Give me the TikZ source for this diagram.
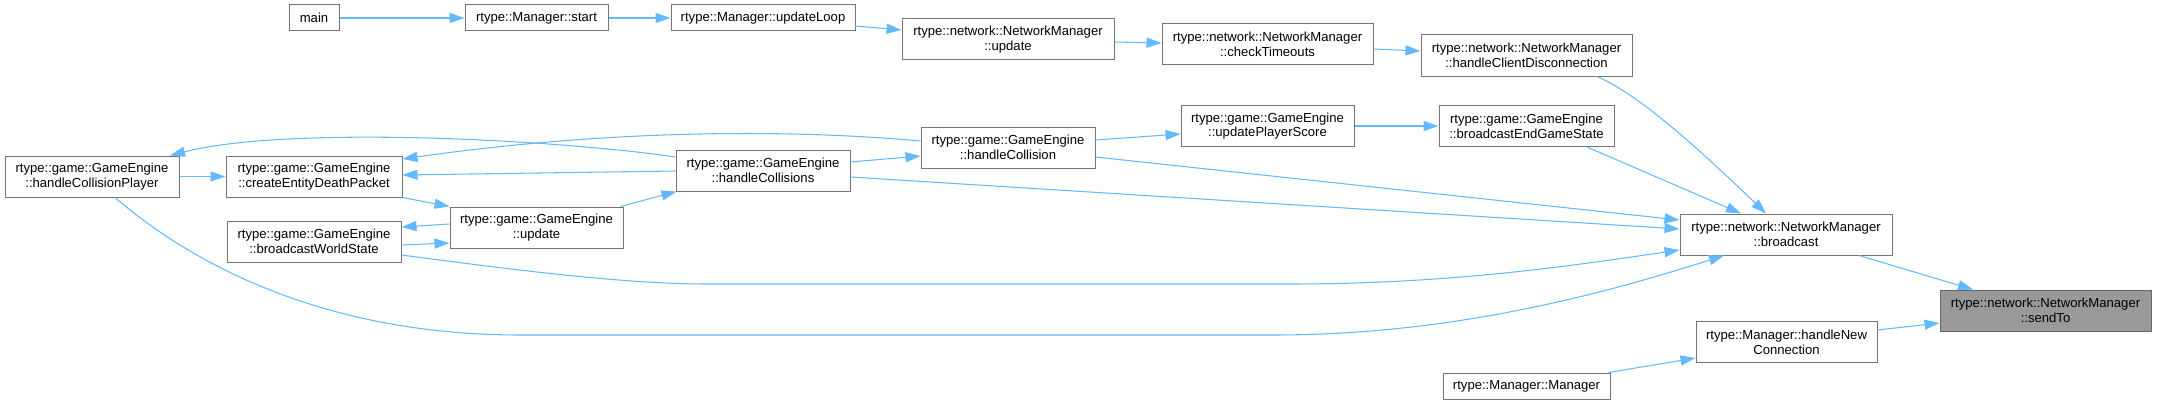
\documentclass[tikz,border=0pt]{standalone}
\usepackage{fontspec}
\setmainfont{Liberation Sans}
\usetikzlibrary{arrows.meta}
\definecolor{edgeblue}{HTML}{63B8FF}
\definecolor{boxborder}{HTML}{747474}
\definecolor{rootfill}{HTML}{999999}
\definecolor{rootborder}{HTML}{666666}
\tikzset{
  box/.style={draw=boxborder, line width=1pt, fill=white, inner sep=0pt, align=center,
    font=\fontsize{13.1}{14.7}\selectfont, text=black},
  onebox/.style={box, minimum height=26pt},
  twobox/.style={box, minimum height=41pt},
  rootbox/.style={twobox, fill=rootfill, draw=rootborder},
  call/.style={draw=edgeblue, line width=1.05pt, -{Triangle[length=15pt,width=10pt]}, edgeblue}
}
\begin{document}
\begin{tikzpicture}[x=1pt,y=-1pt]
\useasboundingbox (0,0) rectangle (2157,404);

% nodes
\node[onebox, minimum width=50pt]  (main)   at (314,18)   {main};
\node[onebox, minimum width=143pt] (mstart) at (536.5,18) {rtype::Manager::start};
\node[onebox, minimum width=184pt] (loop)   at (763,18)   {rtype::Manager::updateLoop};
\node[twobox, minimum width=212pt] (nmupd)  at (1008,39.5) {rtype::network::NetworkManager\\::update};
\node[twobox, minimum width=211pt] (timeouts) at (1267.5,44.5) {rtype::network::NetworkManager\\::checkTimeouts};
\node[twobox, minimum width=211pt] (disconn) at (1526.5,55.5) {rtype::network::NetworkManager\\::handleClientDisconnection};
\node[twobox, minimum width=174pt] (hcp)    at (92,176.5)  {rtype::game::GameEngine\\::handleCollisionPlayer};
\node[twobox, minimum width=176pt] (cedp)   at (314,176.5) {rtype::game::GameEngine\\::createEntityDeathPacket};
\node[twobox, minimum width=174pt] (bws)    at (314,241.5) {rtype::game::GameEngine\\::broadcastWorldState};
\node[twobox, minimum width=173pt] (geupd)  at (536.5,227.5) {rtype::game::GameEngine\\::update};
\node[twobox, minimum width=174pt] (hcs)    at (763,170.5) {rtype::game::GameEngine\\::handleCollisions};
\node[twobox, minimum width=174pt] (hc)     at (1008,147.5) {rtype::game::GameEngine\\::handleCollision};
\node[twobox, minimum width=173pt] (ups)    at (1267.5,126) {rtype::game::GameEngine\\::updatePlayerScore};
\node[twobox, minimum width=175pt] (begs)   at (1526.5,126) {rtype::game::GameEngine\\::broadcastEndGameState};
\node[onebox, minimum width=167pt] (mm)     at (1526.5,386) {rtype::Manager::Manager};
\node[twobox, minimum width=212pt] (bcast)  at (1786,234.5) {rtype::network::NetworkManager\\::broadcast};
\node[twobox, minimum width=181pt] (hnc)    at (1786.5,342) {rtype::Manager::handleNew\\Connection};
\node[rootbox, minimum width=211pt] (sendto) at (2045.5,310.5) {rtype::network::NetworkManager\\::sendTo};

% edges
\draw[call] (main.east) -- (mstart.west);
\draw[call] (mstart.east) -- (loop.west);
\draw[call] ([yshift=-8pt]loop.east) -- ([yshift=9.5pt]nmupd.west);
\draw[call] ([yshift=-2.5pt]nmupd.east) -- ([yshift=1.5pt]timeouts.west);
\draw[call] ([yshift=-4.5pt]timeouts.east) -- ([yshift=4.5pt]disconn.west);
\draw[call] ([xshift=70.5pt]disconn.south) .. controls (1640,95) and (1700,150) .. ([xshift=-20pt]bcast.north);
\draw[call] ([xshift=60.5pt]begs.south) -- ([xshift=-45pt]bcast.north);
\draw[call] ([yshift=7.5pt]hc.east) -- ([yshift=-8pt]ups.west);
\draw[call] (ups.east) -- (begs.west);
\draw[call] ([yshift=-9.5pt]hc.east) -- ([yshift=14.5pt]bcast.west);
\draw[call] ([yshift=8.5pt]hcs.east) -- ([yshift=-8.5pt]hc.west);
\draw[call] ([yshift=-6.5pt]hcs.east) -- ([yshift=5.5pt]bcast.west);
\draw[call] ([yshift=13.5pt]hcs.west) .. controls (560,140) and (290,125) .. ([xshift=78pt]hcp.north);
\draw[call] ([yshift=6.5pt]hc.west) .. controls (800,130) and (620,128) .. ([yshift=17.5pt]cedp.east);
\draw[call] ([yshift=-0.5pt]hcs.west) -- ([yshift=1.5pt]cedp.east);
\draw[call] (hcp.east) -- (cedp.west);
\draw[call] (cedp.south east) -- (geupd.north west);
\draw[call] ([xshift=-3pt]geupd.north east) -- ([xshift=1pt]hcs.south west);
\draw[call] ([yshift=3.5pt]geupd.west) -- ([yshift=14.5pt]bws.east);
\draw[call] ([yshift=-3.5pt]bws.east) -- ([yshift=-15.5pt]geupd.west);
\draw[call] ([yshift=-13.5pt]bws.east) .. controls (500,268) and (620,284) .. (707,284)
  -- (1290,284) .. controls (1450,284) and (1570,266) .. ([yshift=-15.5pt]bcast.west);
\draw[call] ([xshift=23pt]hcp.south) .. controls (170,245) and (300,335) .. (520,335)
  -- (1273,335) .. controls (1450,335) and (1600,295) .. ([xshift=-62pt]bcast.south);
\draw[call] ([xshift=73pt]bcast.south) -- ([xshift=-72.5pt]sendto.north);
\draw[call] ([yshift=12pt]hnc.east) -- ([yshift=-12.5pt]sendto.west);
\draw[call] ([xshift=-2pt]mm.north east) -- ([yshift=-16pt]hnc.west);
\end{tikzpicture}
\end{document}
